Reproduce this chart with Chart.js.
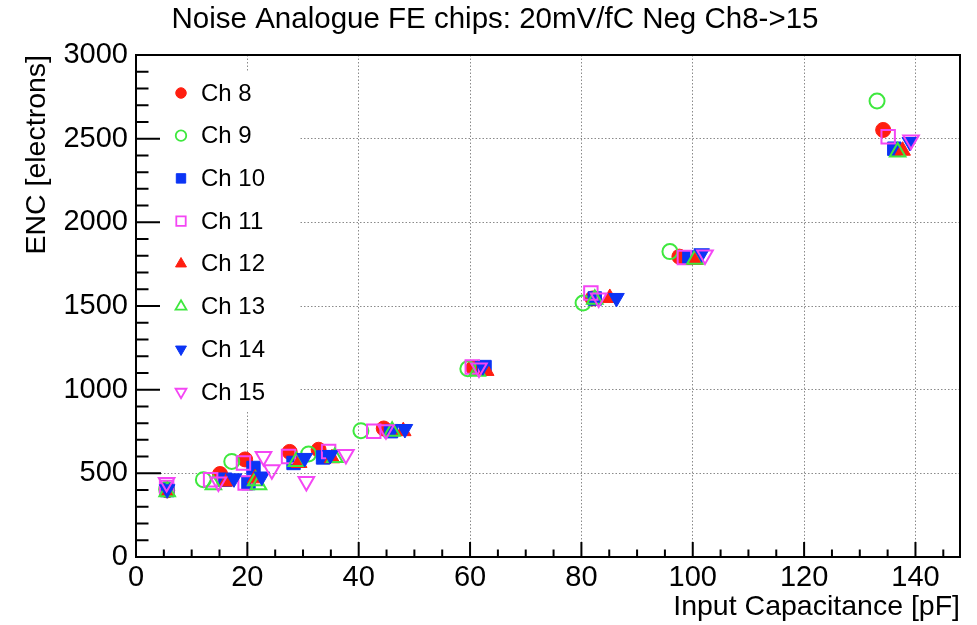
<!DOCTYPE html>
<html>
<head>
<meta charset="utf-8">
<script src="https://cdn.jsdelivr.net/npm/chart.js@4.4.1/dist/chart.umd.min.js"></script>
<style>
  html, body { margin: 0; padding: 0; background: #fff; }
  #wrap { width: 977px; height: 625px; }
</style>
</head>
<body>
<div id="wrap"><canvas id="noise"></canvas></div>
<script>
// input capacitance [pF] and ENC [electrons] per channel
const ch8Cap  = [5.6, 15.1, 19.6, 27.6, 32.8, 44.5, 60.6, 82.0, 97.6, 134.2];
const ch8Enc  = [398, 496, 583, 628, 641, 768, 1130, 1545, 1795, 2552];
const ch9Cap  = [5.5, 12.1, 17.2, 31.0, 40.4, 59.6, 80.3, 95.9, 133.1];
const ch9Enc  = [405, 462, 571, 616, 755, 1125, 1518, 1825, 2725];
const ch10Cap = [5.6, 16.0, 20.2, 21.1, 28.3, 33.6, 45.8, 62.6, 82.4, 99.4, 136.2];
const ch10Enc = [400, 462, 442, 532, 562, 595, 752, 1135, 1545, 1790, 2440];
const ch11Cap = [5.5, 13.4, 19.3, 19.6, 27.4, 34.6, 42.7, 60.4, 81.7, 98.5, 135.1];
const ch11Enc = [415, 462, 562, 442, 601, 631, 752, 1135, 1578, 1790, 2512];
const ch12Cap = [5.6, 16.3, 21.4, 29.3, 35.2, 48.0, 62.9, 85.1, 100.4, 137.7];
const ch12Enc = [392, 451, 470, 562, 590, 752, 1112, 1548, 1775, 2428];
const ch13Cap = [5.6, 13.9, 21.5, 22.0, 28.8, 35.7, 46.0, 61.3, 82.4, 100.4, 136.8];
const ch13Enc = [390, 432, 455, 432, 571, 595, 752, 1110, 1540, 1780, 2420];
const ch14Cap = [5.6, 17.6, 22.6, 30.3, 34.9, 48.3, 62.3, 86.3, 101.6, 139.0];
const ch14Enc = [405, 470, 481, 592, 610, 765, 1140, 1548, 1815, 2480];
const ch15Cap = [5.5, 14.8, 22.9, 24.4, 30.6, 37.7, 44.9, 61.6, 83.1, 102.2, 139.2];
const ch15Enc = [445, 448, 601, 521, 451, 612, 760, 1130, 1548, 1805, 2492];

const channelNames = ['Ch 8', 'Ch 9', 'Ch 10', 'Ch 11', 'Ch 12', 'Ch 13', 'Ch 14', 'Ch 15'];
const capSets = [ch8Cap, ch9Cap, ch10Cap, ch11Cap, ch12Cap, ch13Cap, ch14Cap, ch15Cap];
const encSets = [ch8Enc, ch9Enc, ch10Enc, ch11Enc, ch12Enc, ch13Enc, ch14Enc, ch15Enc];

const plotTitle = 'Noise Analogue FE chips: 20mV/fC Neg Ch8->15';

const RED = '#ff1e10', GREEN = '#3ee83e', BLUE = '#0b34f5', MAGENTA = '#f446f4';
// marker look for each channel: shape, colour, filled or open, rotation
const markers = [
  {style: 'circle',   color: RED,     filled: true,  rot: 0,   r: 7.5},
  {style: 'circle',   color: GREEN,   filled: false, rot: 0,   r: 7.5},
  {style: 'rect',     color: BLUE,    filled: true,  rot: 0,   r: 9.5},
  {style: 'rect',     color: MAGENTA, filled: false, rot: 0,   r: 9.5},
  {style: 'triangle', color: RED,     filled: true,  rot: 0,   r: 9},
  {style: 'triangle', color: GREEN,   filled: false, rot: 0,   r: 9},
  {style: 'triangle', color: BLUE,    filled: true,  rot: 180, r: 9},
  {style: 'triangle', color: MAGENTA, filled: false, rot: 180, r: 9}
];

const FONT = '"Liberation Sans", Arial, Helvetica, sans-serif';

const datasets = channelNames.map((name, i) => {
  const m = markers[i];
  return {
    label: name,
    data: capSets[i].map((c, k) => ({x: c, y: encSets[i][k]})),
    pointStyle: m.style,
    pointRotation: m.rot,
    pointRadius: m.r,
    borderColor: m.color,
    backgroundColor: m.filled ? m.color : 'rgba(0,0,0,0)',
    borderWidth: m.filled ? 1 : 2,
    showLine: false,
    order: channelNames.length - 1 - i   // later channels drawn on top
  };
});

function drawMarker(ctx, m, x, y, r) {
  ctx.beginPath();
  if (m.style === 'circle') {
    ctx.arc(x, y, r, 0, Math.PI * 2);
  } else if (m.style === 'rect') {
    const h = r * Math.SQRT1_2;
    ctx.rect(x - h, y - h, 2 * h, 2 * h);
  } else {
    const s = m.rot === 180 ? -1 : 1;
    for (let k = 0; k < 3; k++) {
      const a = k * 2 * Math.PI / 3;
      const px = x + Math.sin(a) * r, py = y - s * Math.cos(a) * r;
      k === 0 ? ctx.moveTo(px, py) : ctx.lineTo(px, py);
    }
    ctx.closePath();
  }
  ctx.strokeStyle = m.color;
  ctx.lineWidth = m.filled ? 1 : 1.8;
  if (m.filled) { ctx.fillStyle = m.color; ctx.fill(); }
  ctx.stroke();
}

// closed black frame with inward major/minor ticks, plus the title above it
const framePlugin = {
  id: 'framePlugin',
  beforeDatasetsDraw(chart) {
    const {ctx, chartArea: a, scales: {x, y}} = chart;
    ctx.save();
    ctx.strokeStyle = '#000';
    ctx.lineWidth = 2;
    ctx.strokeRect(a.left, a.top, a.right - a.left, a.bottom - a.top);
    ctx.beginPath();
    for (let v = 0; v <= x.max; v += 5) {
      const px = x.getPixelForValue(v);
      const len = v % 20 === 0 ? 15 : 7.5;
      ctx.moveTo(px, a.bottom);
      ctx.lineTo(px, a.bottom - len);
    }
    for (let v = 0; v <= y.max; v += 100) {
      const py = y.getPixelForValue(v);
      const len = v % 500 === 0 ? 25 : 12.5;
      ctx.moveTo(a.left, py);
      ctx.lineTo(a.left + len, py);
    }
    ctx.stroke();

    ctx.fillStyle = '#000';
    ctx.font = '29.5px ' + FONT;
    ctx.textAlign = 'center';
    ctx.textBaseline = 'middle';
    ctx.fillText(plotTitle, 495, 20);
    ctx.restore();
  }
};

// white legend box in the upper left of the frame
const legendPlugin = {
  id: 'legendPlugin',
  afterDatasetsDraw(chart) {
    const ctx = chart.ctx;
    const a = chart.chartArea;
    ctx.save();
    ctx.fillStyle = '#fff';
    ctx.fillRect(a.left + 24, a.top + 17, 140, 340);
    ctx.font = '24px ' + FONT;
    ctx.textBaseline = 'middle';
    channelNames.forEach((name, i) => {
      const yy = a.top + 38 + i * 42.7;
      drawMarker(ctx, markers[i], a.left + 45, yy, markers[i].r * 0.7);
      ctx.fillStyle = '#000';
      ctx.fillText(name, a.left + 65, yy + 1);
    });
    ctx.restore();
  }
};

new Chart(document.getElementById('noise'), {
  type: 'scatter',
  data: {datasets},
  options: {
    responsive: true,
    maintainAspectRatio: false,
    animation: false,
    events: [],
    layout: {padding: {left: 0, right: 17, top: 55, bottom: 0}},
    plugins: {
      legend: {display: false},
      tooltip: {enabled: false},
      title: {display: false}
    },
    scales: {
      x: {
        type: 'linear',
        min: 0,
        max: 148,
        ticks: {stepSize: 20, includeBounds: false, color: '#000', padding: 4, maxRotation: 0,
                font: {family: FONT, size: 29}, callback: v => String(v)},
        grid: {color: '#8a8a8a', lineWidth: 1, drawTicks: false},
        border: {display: false, dash: [1.5, 2]},
        title: {display: true, text: 'Input Capacitance [pF]', align: 'end', color: '#000',
                font: {family: FONT, size: 28.5}, padding: {top: 0, bottom: 1}},
        afterFit(s) { s.height = 68; }
      },
      y: {
        type: 'linear',
        min: 0,
        max: 3000,
        ticks: {stepSize: 500, includeBounds: false, color: '#000', padding: 8,
                font: {family: FONT, size: 29}, callback: v => String(v)},
        grid: {color: '#8a8a8a', lineWidth: 1, drawTicks: false},
        border: {display: false, dash: [1.5, 2]},
        title: {display: true, text: 'ENC [electrons]', align: 'end', color: '#000',
                font: {family: FONT, size: 28.5}, padding: {top: 20, bottom: 0}},
        afterFit(s) { s.width = 136; }
      }
    }
  },
  plugins: [framePlugin, legendPlugin]
});
</script>
</body>
</html>
